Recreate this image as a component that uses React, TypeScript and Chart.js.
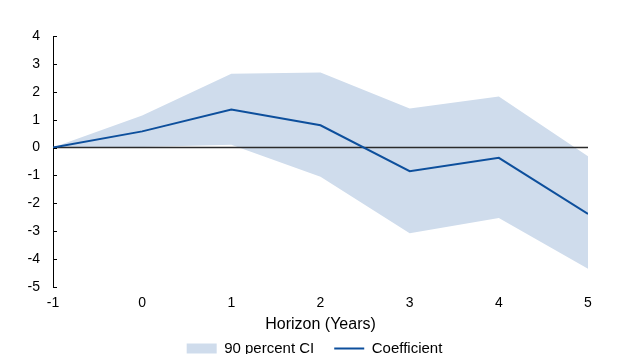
import React, { useEffect, useRef } from "react";
import { Chart, registerables } from "chart.js";

Chart.register(...registerables);

const horizons = [-1, 0, 1, 2, 3, 4, 5];
const coefficient = [0, 0.58, 1.36, 0.8, -0.85, -0.37, -2.38];
const upperCI = [0, 1.15, 2.65, 2.69, 1.4, 1.83, -0.31];
const lowerCI = [0, 0.02, 0.1, -1.05, -3.07, -2.53, -4.35];
const zeroLine = [0, 0, 0, 0, 0, 0, 0];
const yTicks = [-5, -4, -3, -2, -1, 0, 1, 2, 3, 4];

const BAND = "#cfdcec";
const LINE = "#0d4f9c";
const FONT = "'Liberation Sans', Arial, sans-serif";

const pts = (vals: number[]) => horizons.map((h, i) => ({ x: h, y: vals[i] }));

const inwardTicks = {
  id: "inwardTicks",
  afterDraw(chart: any) {
    const { ctx, chartArea, scales } = chart;
    const y = scales.y;
    ctx.save();
    ctx.strokeStyle = "#000";
    ctx.lineWidth = 1;
    yTicks.forEach((v) => {
      const py = Math.round(y.getPixelForValue(v)) + 0.5;
      ctx.beginPath();
      ctx.moveTo(chartArea.left, py);
      ctx.lineTo(chartArea.left + 4, py);
      ctx.stroke();
    });
    ctx.restore();
  },
};

export default function App() {
  const ref = useRef<HTMLCanvasElement>(null);
  useEffect(() => {
    document.body.style.margin = "0";
    document.body.style.overflow = "hidden";
    const chart = new Chart(ref.current!, {
      type: "line",
      data: {
        datasets: [
          {
            label: "Coefficient",
            data: pts(coefficient),
            borderColor: LINE,
            borderWidth: 2,
            pointRadius: 0,
            fill: false,
          },
          {
            label: "zero",
            data: pts(zeroLine),
            borderColor: "#2b2b2b",
            borderWidth: 1.6,
            pointRadius: 0,
            fill: false,
          },
          {
            label: "90 percent CI",
            data: pts(upperCI),
            borderWidth: 0,
            borderColor: "rgba(0,0,0,0)",
            backgroundColor: BAND,
            pointRadius: 0,
            fill: "+1",
          },
          {
            label: "lower",
            data: pts(lowerCI),
            borderWidth: 0,
            borderColor: "rgba(0,0,0,0)",
            pointRadius: 0,
            fill: false,
          },
        ],
      },
      options: {
        animation: false,
        responsive: false,
        maintainAspectRatio: false,
        layout: { padding: { top: 36, left: 0, right: 0, bottom: 0 } },
        plugins: {
          tooltip: { enabled: false },
          legend: {
            position: "bottom",
            labels: {
              font: { family: FONT, size: 15 },
              color: "#000",
              padding: 20,
              usePointStyle: true,
              boxWidth: 30,
              boxHeight: 10,
              pointStyleWidth: 30,
              generateLabels: () => [
                {
                  text: "90 percent CI",
                  fillStyle: BAND,
                  strokeStyle: BAND,
                  lineWidth: 0,
                  pointStyle: "rect",
                  hidden: false,
                  datasetIndex: 2,
                  fontColor: "#000",
                },
                {
                  text: "Coefficient",
                  fillStyle: LINE,
                  strokeStyle: LINE,
                  lineWidth: 2,
                  pointStyle: "line",
                  hidden: false,
                  datasetIndex: 0,
                  fontColor: "#000",
                },
              ],
            },
          },
        },
        scales: {
          x: {
            type: "linear",
            min: -1,
            max: 5,
            grid: { display: false, drawTicks: false },
            border: { display: false },
            ticks: {
              stepSize: 1,
              padding: 8,
              color: "#000",
              font: { family: FONT, size: 14 },
            },
            title: {
              display: true,
              text: "Horizon (Years)",
              color: "#000",
              font: { family: FONT, size: 16 },
              padding: { top: 0, bottom: -13.5 },
            },
            afterFit: (s: any) => {
              s.height = 34;
            },
          },
          y: {
            min: -5,
            max: 4,
            grid: { display: false, drawTicks: false },
            border: { display: true, color: "#000", width: 1 },
            ticks: {
              stepSize: 1,
              padding: 13,
              color: "#000",
              font: { family: FONT, size: 14 },
            },
            afterFit: (s: any) => {
              s.width = 53;
            },
          },
          y2: {
            position: "right",
            display: true,
            grid: { display: false, drawTicks: false },
            border: { display: false },
            ticks: { display: false },
            afterFit: (s: any) => {
              s.width = 41;
            },
          },
        },
      },
      plugins: [inwardTicks],
    });
    return () => chart.destroy();
  }, []);
  return <canvas ref={ref} width={629} height={366} style={{ display: "block" }} />;
}
